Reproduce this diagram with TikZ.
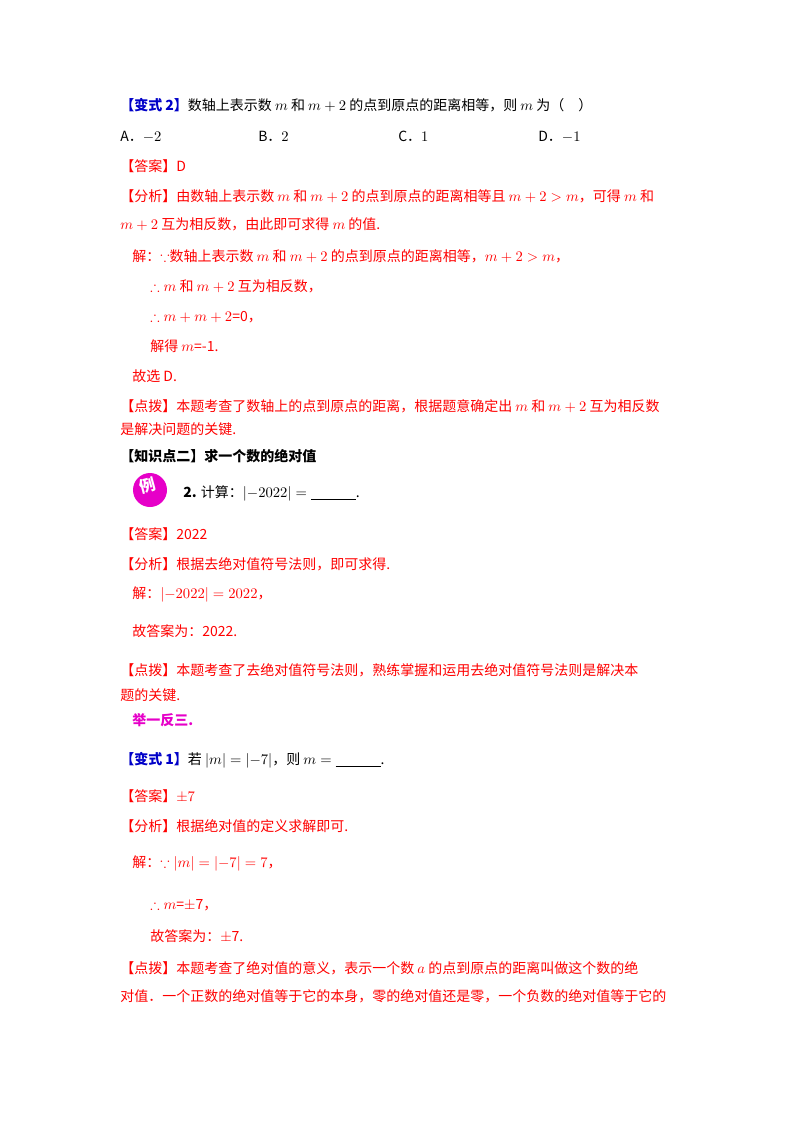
\documentclass[tikz,border=0pt]{standalone}
\usepackage{fontspec}
\setmainfont{Noto Sans CJK SC}
\usepackage{amssymb}
\definecolor{bl}{RGB}{0,0,200}
\definecolor{rd}{RGB}{255,0,0}
\definecolor{mg}{RGB}{230,0,200}
\tikzset{t/.style={anchor=base west,inner sep=0pt,font=\fontsize{10.5}{12}\selectfont},
r/.style={t,text=rd},k/.style={t,text=black}}
\newcommand{\bll}{\underline{\hspace{3.2em}}}
\begin{document}
\begin{tikzpicture}[x=0.75pt,y=-0.75pt]
\useasboundingbox (0,0) rectangle (800,1132);
\node[k] (l1) at (120,110) {\textcolor{bl}{\bfseries【变式 2】}数轴上表示数 $m$ 和 $m+2$ 的点到原点的距离相等，则 $m$ 为（\quad ）};
\node[k] (a) at (120,141) {A．$-2$};
\node[k] (b) at (258,141) {B．$2$};
\node[k] (c) at (398,141) {C．$1$};
\node[k] (d) at (538,141) {D．$-1$};
\node[r] (l3) at (120,171) {【答案】D};
\node[r] (l4) at (120,201) {【分析】由数轴上表示数 $m$ 和 $m+2$ 的点到原点的距离相等且 $m+2>m$，可得 $m$ 和};
\node[r] (l5) at (120,229) {$m+2$ 互为相反数，由此即可求得 $m$ 的值.};
\node[r] (l6) at (132,261) {解：$\because$数轴上表示数 $m$ 和 $m+2$ 的点到原点的距离相等，$m+2>m$，};
\node[r] (l7) at (150,291) {$\therefore m$ 和 $m+2$ 互为相反数，};
\node[r] (l8) at (150,321) {$\therefore m+m+2$=0，};
\node[r] (l9) at (150,351) {解得 $m$=-1.};
\node[r] (l10) at (132,381) {故选 D.};
\node[r] (l11) at (120,411) {【点拨】本题考查了数轴上的点到原点的距离，根据题意确定出 $m$ 和 $m+2$ 互为相反数};
\node[r] (l12) at (120,434) {是解决问题的关键.};
\node[k,font=\fontsize{10.5}{12}\selectfont\bfseries] (l13) at (120,461) {【知识点二】求一个数的绝对值};
\fill[mg] (150,490) circle (17);
\node[text=white,font=\fontsize{12}{14}\selectfont\bfseries,rotate=15] (ic) at (148,486) {例};
\node[k] (l14) at (183,497) {\textbf{2.} 计算：$|{-2022}|=\bll$.};
\node[r] (l15) at (120,539) {【答案】2022};
\node[r] (l16) at (120,569) {【分析】根据去绝对值符号法则，即可求得.};
\node[r] (l17) at (132,598) {解：$|{-2022}|=2022$，};
\node[r] (l18) at (132,636) {故答案为：2022.};
\node[r] (l19) at (120,675) {【点拨】本题考查了去绝对值符号法则，熟练掌握和运用去绝对值符号法则是解决本};
\node[r] (l20) at (120,700) {题的关键.};
\node[k,text=mg,font=\fontsize{10.5}{12}\selectfont\bfseries] (l21) at (132,725) {举一反三.};
\node[k] (l22) at (120,764) {\textcolor{bl}{\bfseries【变式 1】}若 $|m|=|{-7}|$，则 $m=\bll$.};
\node[r] (l23) at (120,801) {【答案】$\pm7$};
\node[r] (l24) at (120,831) {【分析】根据绝对值的定义求解即可.};
\node[r] (l25) at (132,867) {解：$\because|m|=|{-7}|=7$，};
\node[r] (l26) at (150,909) {$\therefore m$=$\pm$7，};
\node[r] (l27) at (150,941) {故答案为：$\pm$7.};
\node[r] (l28) at (120,973) {【点拨】本题考查了绝对值的意义，表示一个数 $a$ 的点到原点的距离叫做这个数的绝};
\node[r] (l29) at (120,1001) {对值．一个正数的绝对值等于它的本身，零的绝对值还是零，一个负数的绝对值等于它的};
\end{tikzpicture}
\end{document}
